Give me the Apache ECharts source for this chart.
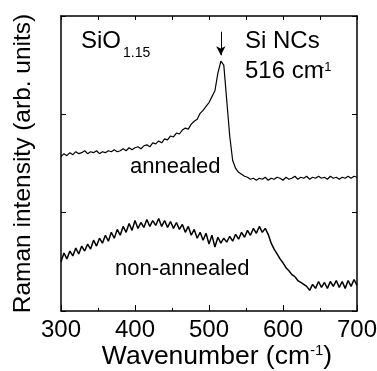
<!DOCTYPE html>
<html>
<head>
<meta charset="utf-8">
<script src="https://cdn.jsdelivr.net/npm/echarts@6/dist/echarts.min.js"></script>
<style>
  html, body { margin: 0; padding: 0; background: #fff; }
  #chart { width: 377px; height: 371px; }
</style>
</head>
<body>
<div id="chart"></div>
<script>
// wavenumber grid (cm-1)
const wavenumber = [
  300, 304, 308, 312, 316, 320, 324, 328, 332, 336,
  340, 344, 348, 352, 356, 360, 364, 368, 372, 376,
  380, 384, 388, 392, 396, 400, 404, 408, 412, 416,
  420, 424, 428, 432, 436, 440, 444, 448, 452, 456,
  460, 464, 468, 472, 476, 480, 484, 488, 492, 496,
  500, 504, 508, 512, 516, 520, 524, 528, 532, 536,
  540, 544, 548, 552, 556, 560, 564, 568, 572, 576,
  580, 584, 588, 592, 596, 600, 604, 608, 612, 616,
  620, 624, 628, 632, 636, 640, 644, 648, 652, 656,
  660, 664, 668, 672, 676, 680, 684, 688, 692, 696,
  700
]

// annealed spectrum (offset, arb. units)
const annealed = [
  1.57, 1.60, 1.58, 1.61, 1.59, 1.62, 1.60, 1.61, 1.63, 1.60,
  1.62, 1.61, 1.63, 1.60, 1.62, 1.61, 1.63, 1.62, 1.64, 1.62,
  1.63, 1.65, 1.63, 1.66, 1.64, 1.66, 1.67, 1.65, 1.68, 1.69,
  1.67, 1.71, 1.70, 1.73, 1.71, 1.75, 1.74, 1.78, 1.77, 1.81,
  1.80, 1.84, 1.86, 1.85, 1.90, 1.93, 1.95, 2.01, 2.04, 2.08,
  2.12, 2.18, 2.24, 2.42, 2.54, 2.50, 2.14, 1.78, 1.53, 1.45,
  1.41, 1.39, 1.37, 1.36, 1.34, 1.35, 1.33, 1.35, 1.34, 1.36,
  1.33, 1.35, 1.34, 1.36, 1.35, 1.33, 1.36, 1.34, 1.35, 1.37,
  1.34, 1.36, 1.35, 1.37, 1.34, 1.36, 1.35, 1.37, 1.35, 1.36,
  1.34, 1.37, 1.35, 1.36, 1.34, 1.36, 1.35, 1.37, 1.35, 1.37,
  1.36
]

// non-annealed spectrum
const nonAnnealed = [
  0.50, 0.59, 0.53, 0.61, 0.56, 0.64, 0.58, 0.66, 0.61, 0.68,
  0.63, 0.72, 0.66, 0.74, 0.69, 0.77, 0.71, 0.80, 0.74, 0.83,
  0.77, 0.86, 0.80, 0.89, 0.82, 0.92, 0.84, 0.90, 0.85, 0.93,
  0.86, 0.92, 0.87, 0.94, 0.86, 0.92, 0.85, 0.91, 0.84, 0.90,
  0.83, 0.88, 0.80, 0.86, 0.77, 0.83, 0.74, 0.80, 0.72, 0.79,
  0.68, 0.77, 0.65, 0.75, 0.69, 0.74, 0.70, 0.76, 0.71, 0.78,
  0.73, 0.80, 0.75, 0.82, 0.77, 0.84, 0.79, 0.86, 0.80, 0.84,
  0.78, 0.69, 0.63, 0.58, 0.53, 0.49, 0.44, 0.41, 0.37, 0.35,
  0.31, 0.29, 0.27, 0.25, 0.21, 0.27, 0.23, 0.30, 0.24, 0.29,
  0.23, 0.30, 0.25, 0.31, 0.24, 0.30, 0.23, 0.31, 0.25, 0.32,
  0.26
]

const xTicks = [300, 400, 500, 600, 700]
const peakPos = 516

const FONT = '"Liberation Sans", Arial, sans-serif'

const chart = echarts.init(document.getElementById('chart'))

const frameAxis = {
  axisLine: { show: true, onZero: false, lineStyle: { color: '#000', width: 1.5 } },
  splitLine: { show: false }
}

const option = {
  backgroundColor: '#fff',
  animation: false,
  grid: { left: 61, right: 20, top: 16, bottom: 60, outerBoundsMode: 'none' },
  xAxis: [
    {
      ...frameAxis,
      type: 'value',
      min: xTicks[0],
      max: xTicks[xTicks.length - 1],
      interval: 100,
      position: 'bottom',
      axisTick: { inside: true, length: 6, lineStyle: { color: '#000', width: 1 } },
      minorTick: { show: true, splitNumber: 2, length: 3, lineStyle: { color: '#000', width: 1 } },
      axisLabel: { color: '#000', fontSize: 24, fontFamily: FONT, margin: 7 },
      name: 'Wavenumber (cm{sup|-1})',
      nameLocation: 'middle',
      nameGap: 32,
      nameMoveOverlap: false,
      nameTextStyle: {
        color: '#000', fontSize: 26.5, fontFamily: FONT, padding: [0, 0, 0, 16],
        rich: { sup: { fontSize: 15, fontFamily: FONT, color: '#000', verticalAlign: 'top', padding: [0, 0, 12, 0] } }
      }
    },
    {
      ...frameAxis,
      type: 'value',
      min: xTicks[0],
      max: xTicks[xTicks.length - 1],
      interval: 100,
      position: 'top',
      axisTick: { inside: true, length: 4, lineStyle: { color: '#000', width: 1 } },
      minorTick: { show: true, splitNumber: 2, length: 4, lineStyle: { color: '#000', width: 1 } },
      axisLabel: { show: false }
    }
  ],
  yAxis: [
    {
      ...frameAxis,
      type: 'value',
      min: 0,
      max: 3,
      interval: 1,
      position: 'left',
      axisTick: { inside: true, length: 5, lineStyle: { color: '#000', width: 1 } },
      axisLabel: { show: false },
      name: 'Raman intensity (arb. units)',
      nameLocation: 'middle',
      nameGap: 25,
      nameMoveOverlap: false,
      nameTextStyle: { color: '#000', fontSize: 24.5, fontFamily: FONT }
    },
    {
      ...frameAxis,
      type: 'value',
      min: 0,
      max: 3,
      interval: 1,
      position: 'right',
      axisTick: { inside: true, length: 5, lineStyle: { color: '#000', width: 1 } },
      axisLabel: { show: false }
    }
  ],
  series: [
    {
      name: 'annealed',
      type: 'line',
      xAxisIndex: 0,
      yAxisIndex: 0,
      showSymbol: false,
      data: wavenumber.map((w, i) => [w, annealed[i]]),
      lineStyle: { color: '#000', width: 1.2 },
      markLine: {
        silent: true,
        symbol: ['none', 'arrow'],
        symbolSize: [7, 9],
        label: { show: false },
        lineStyle: { color: '#000', width: 1, type: 'solid' },
        data: [[{ coord: [peakPos, 2.84] }, { coord: [peakPos, 2.6] }]]
      }
    },
    {
      name: 'non-annealed',
      type: 'line',
      xAxisIndex: 0,
      yAxisIndex: 0,
      showSymbol: false,
      data: wavenumber.map((w, i) => [w, nonAnnealed[i]]),
      lineStyle: { color: '#000', width: 1.5 }
    }
  ],
  graphic: [
    { type: 'text', left: 81, top: 29, style: { text: 'SiO', fontSize: 24, fontFamily: FONT, fill: '#000' } },
    { type: 'text', left: 123, top: 46, style: { text: '1.15', fontSize: 14, fontFamily: FONT, fill: '#000' } },
    { type: 'text', left: 245, top: 29, style: { text: 'Si NCs', fontSize: 24, fontFamily: FONT, fill: '#000' } },
    { type: 'text', left: 245, top: 59, style: { text: '516 cm', fontSize: 24, fontFamily: FONT, fill: '#000' } },
    { type: 'text', left: 320, top: 61, style: { text: '-1', fontSize: 13, fontFamily: FONT, fill: '#000' } },
    { type: 'text', left: 130, top: 156, style: { text: 'annealed', fontSize: 22, fontFamily: FONT, fill: '#000' } },
    { type: 'text', left: 115, top: 258, style: { text: 'non-annealed', fontSize: 22, fontFamily: FONT, fill: '#000' } }
  ]
}

chart.setOption(option)
</script>
</body>
</html>
